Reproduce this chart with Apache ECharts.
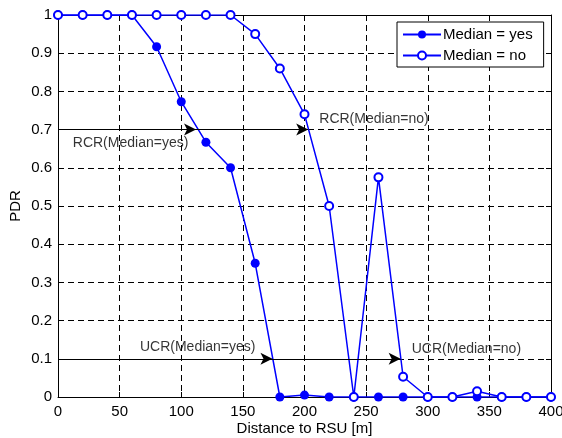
<!DOCTYPE html>
<html>
<head>
<meta charset="utf-8">
<script src="https://cdn.jsdelivr.net/npm/echarts@6/dist/echarts.min.js"></script>
<style>
  html, body { margin: 0; padding: 0; background: #fff; }
  #chart { width: 562px; height: 438px; }
</style>
</head>
<body>
<div id="chart"></div>
<script>
  // distance to RSU [m]
  var distances = [0, 20, 40, 60, 80, 100, 120, 140, 160, 180, 200, 220, 240, 260, 280, 300, 320, 340, 360, 380, 400];
  var pdrMedianYes = [1, 1, 1, 1, 0.917, 0.773, 0.667, 0.6, 0.35, 0, 0.005, 0, 0, 0, 0, 0, 0, 0, 0, 0, 0];
  var pdrMedianNo = [1, 1, 1, 1, 1, 1, 1, 1, 0.95, 0.86, 0.74, 0.5, 0, 0.575, 0.053, 0, 0, 0.015, 0, 0, 0];
  var xTicks = [0, 400, 50];
  var yTicks = [0, 1, 0.1];

  // arrows: [from x, y, to x]
  var arrows = [
    [0, 0.7, 112],
    [0, 0.7, 203],
    [0, 0.1, 174],
    [0, 0.1, 278]
  ];
  // annotation texts: [x, y, text]
  var notes = [
    [12, 0.665, 'RCR(Median=yes)'],
    [212, 0.728, 'RCR(Median=no)'],
    [66.5, 0.131, 'UCR(Median=yes)'],
    [287, 0.126, 'UCR(Median=no)']
  ];

  function pairs(xs, ys) {
    return xs.map(function (x, i) { return [x, ys[i]]; });
  }

  var chart = echarts.init(document.getElementById('chart'));
  var font = 'Liberation Sans, Arial, Helvetica, sans-serif';
  var dash = [6, 4];

  var option = {
    animation: false,
    backgroundColor: '#fff',
    textStyle: { fontFamily: font, color: '#000' },
    grid: { left: 58, right: 11, top: 15, bottom: 41, show: false, containLabel: false, outerBoundsMode: 'none' },
    legend: {
      data: ['Median = yes', 'Median = no'],
      orient: 'vertical',
      left: 397,
      top: 22,
      backgroundColor: '#fff',
      borderColor: '#000',
      borderWidth: 1,
      borderRadius: 0,
      padding: [5, 11, 4, 5],
      itemGap: 6,
      itemWidth: 38,
      itemHeight: 10,
      textStyle: { fontFamily: font, fontSize: 15, color: '#000', padding: [0, 0, 0, -3] }
    },
    xAxis: [{
      type: 'value',
      min: xTicks[0], max: xTicks[1], interval: xTicks[2],
      name: 'Distance to RSU [m]',
      nameLocation: 'middle',
      nameGap: 24,
      nameMoveOverlap: false,
      nameTextStyle: { fontFamily: font, fontSize: 15, color: '#000', verticalAlign: 'top' },
      axisLine: { onZero: false, lineStyle: { color: '#000', width: 1 } },
      axisTick: { inside: true, length: 5, lineStyle: { color: '#000' } },
      axisLabel: { fontFamily: font, fontSize: 15, color: '#000', margin: 7 },
      splitLine: { show: true, lineStyle: { color: '#000', type: dash, width: 1 } }
    }, {
      type: 'value', position: 'top',
      min: xTicks[0], max: xTicks[1], interval: xTicks[2],
      axisLine: { show: true, onZero: false, lineStyle: { color: '#000', width: 1 } },
      axisTick: { show: true, inside: true, length: 5, lineStyle: { color: '#000' } },
      axisLabel: { show: false },
      splitLine: { show: false }
    }],
    yAxis: [{
      type: 'value',
      min: yTicks[0], max: yTicks[1], interval: yTicks[2],
      name: 'PDR',
      nameLocation: 'middle',
      nameGap: 35,
      nameMoveOverlap: false,
      nameTextStyle: { fontFamily: font, fontSize: 15, color: '#000' },
      axisLine: { show: true, onZero: false, lineStyle: { color: '#000', width: 1 } },
      axisTick: { show: true, inside: true, length: 5, lineStyle: { color: '#000' } },
      axisLabel: { fontFamily: font, fontSize: 15, color: '#000', margin: 6 },
      splitLine: { show: true, lineStyle: { color: '#000', type: dash, width: 1 } }
    }, {
      type: 'value', position: 'right',
      min: yTicks[0], max: yTicks[1], interval: yTicks[2],
      axisLine: { show: true, onZero: false, lineStyle: { color: '#000', width: 1 } },
      axisTick: { show: true, inside: true, length: 5, lineStyle: { color: '#000' } },
      axisLabel: { show: false },
      splitLine: { show: false }
    }],
    series: [
      {
        name: 'arrows',
        type: 'line',
        data: [],
        silent: true,
        markLine: {
          silent: true,
          animation: false,
          symbol: ['none', 'arrow'],
          symbolSize: [9, 12],
          lineStyle: { color: '#000', width: 1, type: 'solid' },
          label: { show: false },
          data: arrows.map(function (a) {
            return [{ coord: [a[0], a[1]] }, { coord: [a[2], a[1]] }];
          })
        }
      },
      {
        name: 'Median = yes',
        type: 'line',
        data: pairs(distances, pdrMedianYes),
        symbol: 'circle',
        symbolSize: 9,
        showAllSymbol: true,
        color: '#0000ff',
        lineStyle: { color: '#0000ff', width: 1.5 },
        itemStyle: { color: '#0000ff' },
        z: 3
      },
      {
        name: 'Median = no',
        type: 'line',
        data: pairs(distances, pdrMedianNo),
        symbol: 'emptyCircle',
        symbolSize: 8,
        showAllSymbol: true,
        color: '#0000ff',
        lineStyle: { color: '#0000ff', width: 1.5 },
        itemStyle: { color: '#0000ff', borderColor: '#0000ff', borderWidth: 1.5 },
        z: 4
      },
      {
        name: 'notes',
        type: 'scatter',
        symbolSize: 0,
        silent: true,
        data: notes.map(function (n) { return { value: [n[0], n[1]], name: n[2] }; }),
        label: {
          show: true,
          position: 'right',
          distance: 0,
          formatter: function (p) { return p.name; },
          fontFamily: font,
          fontSize: 14,
          color: '#000'
        },
        z: 5
      }
    ]
  };
  chart.setOption(option);
</script>
</body>
</html>
